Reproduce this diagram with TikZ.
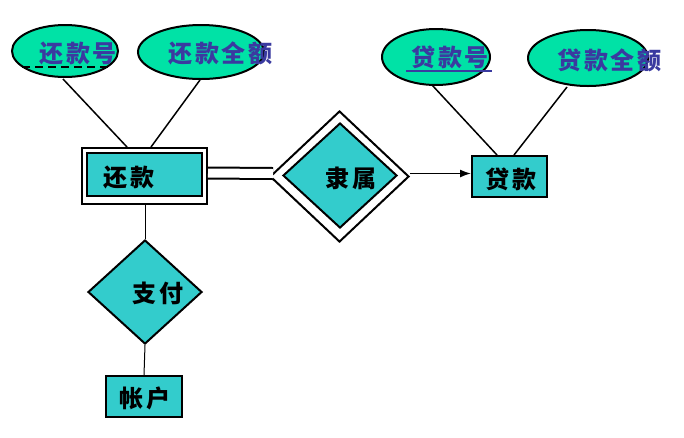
\documentclass[tikz,border=0pt]{standalone}
\usepackage{fontspec}
\newfontfamily\cjk{Noto Sans CJK SC}[LetterSpace=12]
\usetikzlibrary{shapes.geometric,arrows.meta}
\definecolor{attrfill}{RGB}{0,226,166}
\definecolor{entfill}{RGB}{51,204,204}
\definecolor{attrtext}{RGB}{58,58,160}
\tikzset{
  attr/.style={ellipse,draw=black,line width=2pt,fill=attrfill,inner sep=0pt},
  attrlabel/.style={anchor=west,inner sep=0pt,text=attrtext,font=\cjk\bfseries\fontsize{24}{26}\selectfont},
  entlabel/.style={inner sep=0pt,text=black,font=\cjk\bfseries\fontsize{24}{26}\selectfont},
  entity/.style={rectangle,draw=black,line width=2pt,fill=entfill,inner sep=0pt},
  rel/.style={diamond,draw=black,line width=2pt,fill=entfill,inner sep=0pt,aspect=1},
  conn/.style={draw=black,line width=1.5pt},
}
\begin{document}
\begin{tikzpicture}[x=1pt,y=-1pt]
\useasboundingbox (0,0) rectangle (684,437);
\fill[white] (0,0) rectangle (684,437);

% attributes
\node[attr,minimum width=106pt,minimum height=52pt] (hkh) at (65,51) {};
\node[attr,minimum width=126pt,minimum height=54pt] (hkje) at (201,52) {};
\node[attr,minimum width=108pt,minimum height=56pt] (dkh) at (436,57) {};
\node[attr,minimum width=120pt,minimum height=56pt] (dkje) at (588,58) {};

\node[attrlabel] (hkhT) at (39,53) {还款号};
\node[attrlabel] (hkjeT) at (168,53) {还款全额};
\node[attrlabel] (dkhT) at (411,57) {贷款号};
\node[attrlabel] (dkjeT) at (557,60) {贷款全额};

% key underlines
\coordinate (u1a) at (22,67); \coordinate (u1b) at (110,67);
\draw[black,line width=1.8pt,dash pattern=on 8pt off 5pt] (u1a) -- (u1b);
\coordinate (u2a) at (406,71); \coordinate (u2b) at (492,71);
\draw[attrtext,line width=1.2pt] (u2a) -- (u2b);

% weak entity
\node[rectangle,draw=black,line width=2pt,fill=white,minimum width=125pt,minimum height=56pt,inner sep=0pt] (hkOut) at (144.5,176) {};
\node[entity,minimum width=115pt,minimum height=43pt] (hk) at (144.5,174.5) {};
\node[entlabel] (hkT) at (129,177) {还款};

% identifying relationship
\node[diamond,draw=black,line width=2pt,fill=white,minimum width=139pt,minimum height=131pt,inner sep=0pt,aspect=1] (lsOut) at (339.5,176.5) {};
\node[rel,minimum width=114pt,minimum height=105pt] (ls) at (340,175.5) {};
\node[entlabel] (lsT) at (351,178) {隶属};

% entity
\node[entity,minimum width=75pt,minimum height=41pt] (dk) at (509.5,176.5) {};
\node[entlabel] (dkT) at (511,179) {贷款};

% relationship and entity below
\node[rel,minimum width=114pt,minimum height=104pt] (zf) at (145,292) {};
\node[entlabel] (zfT) at (158,293) {支付};
\node[entity,minimum width=76pt,minimum height=41pt] (zh) at (144,396.5) {};
\node[entlabel] (zhT) at (145,398) {帐户};

% connectors
\coordinate (hkhB) at (63,79);
\coordinate (hkjeB) at (200,80);
\coordinate (dkhB) at (432,85);
\coordinate (dkjeB) at (567,87);
\draw[conn] (hkhB) -- (127,147);
\draw[conn] (hkjeB) -- (151,147);
\draw[conn] (dkhB) -- (497,155);
\draw[conn] (dkjeB) -- (514,155);

\draw[black,line width=2pt,double=white,double distance=9pt]
  ([yshift=3pt]hkOut.east) -- ([yshift=3pt,xshift=4pt]lsOut.west);
\draw[conn,-{Latex[length=11pt,width=8pt]}] ([yshift=3pt]lsOut.east) -- ([yshift=3pt]dk.west);

\draw[black,line width=1pt] (hkOut.south -| zf.north) -- (zf.north);
\draw[black,line width=1pt] (zf.south) -- (zh.north);
\end{tikzpicture}
\end{document}
